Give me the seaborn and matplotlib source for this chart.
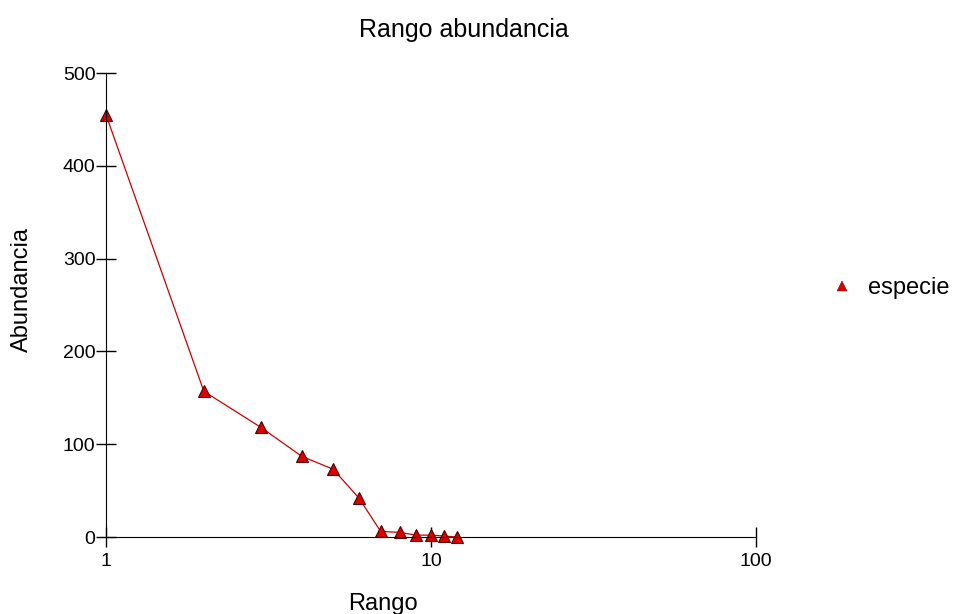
import numpy as np
import pandas as pd
import seaborn as sns
import matplotlib
matplotlib.use("Agg")
import matplotlib.pyplot as plt

# datos
rango = [1, 2, 3, 4, 5, 6, 7, 8, 9, 10, 11, 12]
abundancia = [455, 157, 118, 87, 73, 42, 6, 5, 2, 2, 1, 0]
serie = ["especie"] * len(rango)

df = pd.DataFrame({"Rango": rango, "Abundancia": abundancia, "serie": serie})

sns.set_style("ticks")
plt.rcParams['font.family'] = ['Liberation Sans', 'DejaVu Sans']
plt.rcParams['text.color'] = 'black'

fig = plt.figure(figsize=(9.61, 6.14), dpi=100)
ax = fig.add_axes([106 / 961, 1 - 537 / 614, 650 / 961, 464 / 614])

sns.lineplot(data=df, x="Rango", y="Abundancia", hue="serie", palette=["#cc0000"],
             marker="^", markersize=9, markerfacecolor="#dd0000",
             markeredgecolor="#500000", markeredgewidth=0.8, linewidth=0.9,
             clip_on=False, ax=ax)

ax.set_xscale("log")
ax.set_xlim(1, 100)
ax.set_ylim(0, 500)
ax.set_xticks([1, 10, 100])
ax.set_xticklabels(["1", "10", "100"])
ax.xaxis.set_minor_locator(matplotlib.ticker.NullLocator())
ax.set_yticks([0, 100, 200, 300, 400, 500])
ax.tick_params(direction="inout", length=15, width=1, labelsize=14, colors="black")
ax.tick_params(axis="y", pad=0)
ax.tick_params(axis="x", pad=4)
for s in ["top", "right"]:
    ax.spines[s].set_visible(False)
for s in ["left", "bottom"]:
    ax.spines[s].set_color("black")
ax.set_xlabel("")
ax.set_ylabel("")
fig.text(383 / 961, 1 - 610 / 614, "Rango", fontsize=17, ha="center", va="baseline",
         color="black")
fig.text(22 / 961, 1 - 290 / 614, "Abundancia", fontsize=17, ha="center", va="center",
         rotation=90, color="black")
fig.text(464 / 961, 1 - 37 / 614, "Rango abundancia", fontsize=18, ha="center",
         va="baseline", color="black")

handles, labels = ax.get_legend_handles_labels()
for h in handles:
    h.set_linestyle("None")
    h.set_markersize(7)
    h.set_markeredgewidth(0.3)
leg = ax.legend(handles, labels, loc="center left", bbox_to_anchor=(828 / 961, 1 - 288 / 614),
                bbox_transform=fig.transFigure, frameon=False, fontsize=17,
                borderpad=0, borderaxespad=0, handletextpad=0.5, handlelength=1.2)
for t in leg.get_texts():
    t.set_color("black")

fig.savefig("out.png", dpi=100)
